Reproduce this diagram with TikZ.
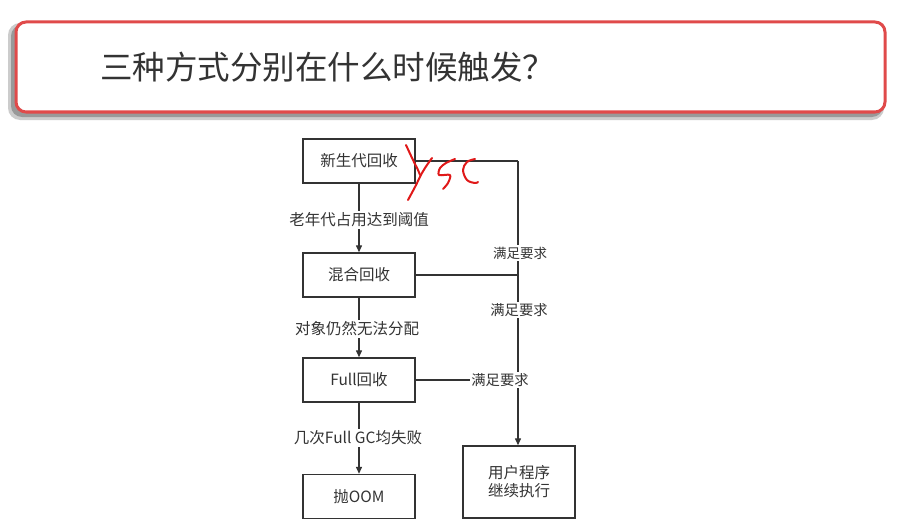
\documentclass[tikz,border=0pt]{standalone}
\usepackage{fontspec}
\setmainfont{Noto Sans CJK SC}
\usetikzlibrary{arrows.meta}
\definecolor{ln}{HTML}{333333}
\definecolor{titlered}{HTML}{E04A4A}
\definecolor{ink}{HTML}{E01818}
\tikzset{
  box/.style={draw=ln, line width=1.4pt, minimum width=112pt, minimum height=44pt, inner sep=0pt, font=\fontsize{15.5}{18}\selectfont, text=ln, align=center},
  conn/.style={draw=ln, line width=1.3pt},
  arr/.style={conn, -{Triangle[length=7pt,width=6pt]}},
  lbl/.style={fill=white, inner sep=1.5pt, text=ln, font=\fontsize{15.5}{18}\selectfont},
  rlbl/.style={fill=white, inner sep=1.5pt, text=ln, font=\fontsize{14.3}{17}\selectfont},
  handink/.style={draw=ink, line width=2pt, line cap=round, line join=round}
}
\begin{document}
\begin{tikzpicture}[x=1pt,y=-1pt]
\useasboundingbox[fill=white] (0,0) rectangle (903,527);
% title banner with shadow
\fill[black!20, rounded corners=12pt] (8,23) rectangle (884,120);
\fill[black!40, rounded corners=11pt] (11,25) rectangle (883,117);
\draw[titlered, line width=3pt, fill=white, rounded corners=10pt] (16,22) rectangle (885,112);
\node[anchor=west, text=ln, font=\fontsize{32.5}{37}\selectfont, inner sep=0pt] (title) at (100,67) {三种方式分别在什么时候触发？};
% boxes
\node[box] (ygc) at (359,161) {新生代回收};
\node[box] (mix) at (359,275) {混合回收};
\node[box] (full) at (359,380) {Full回收};
\node[box] (oom) at (359,496.5) {抛OOM};
\node[box, minimum height=72pt] (user) at (519,482) {用户程序\\继续执行};
% coordinates on right trunk
\coordinate (t1) at (518,161);
\coordinate (t2) at (518,275);
\coordinate (t3) at (518,380);
% left chain
\draw[arr] (ygc.south) -- (mix.north);
\draw[arr] (mix.south) -- (full.north);
\draw[arr] (full.south) -- (oom.north);
\node[lbl] (l1) at (359,220) {老年代占用达到阈值};
\node[lbl] (l2) at (357,329) {对象仍然无法分配};
\node[lbl] (l3) at (358,438) {几次Full GC均失败};
% right trunk
\draw[conn] (ygc.east) -- (t1);
\draw[arr] (t1) -- (user.north -| t1);
\draw[conn] (mix.east) -- (t2);
\draw[conn] (full.east) -- (t3);
\node[rlbl, font=\fontsize{13.5}{16}\selectfont] (r1) at (520,253) {满足要求};
\node[rlbl] (r2) at (519,310) {满足要求};
\node[rlbl] (r3) at (500,380) {满足要求};
% handwritten YGC
\draw[handink] plot[smooth, tension=0.5] coordinates {(406,145) (413,160) (418,170) (420,175)};
\draw[handink] plot[smooth, tension=0.5] coordinates {(432,158) (427,165) (422,173) (415,187) (408,200)};
\draw[handink] plot[smooth, tension=0.5] coordinates {(455,159) (446,163) (440,168) (439,175) (450,175) (448,183) (443,189)};
\draw[handink] plot[smooth, tension=0.6] coordinates {(475,159) (467,162) (463,170) (467,180) (475,183) (478,182)};
\end{tikzpicture}
\end{document}
